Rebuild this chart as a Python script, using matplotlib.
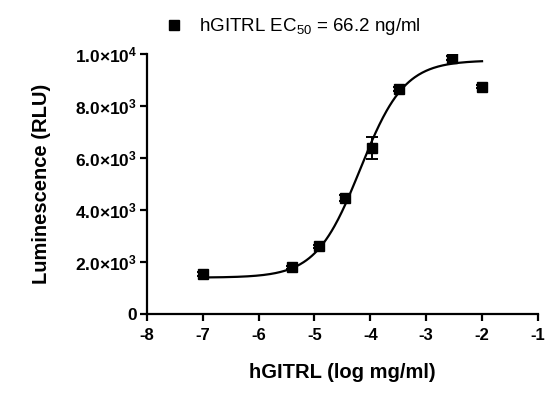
import numpy as np
import matplotlib
matplotlib.use("Agg")
import matplotlib.pyplot as plt

plt.rcParams['font.family'] = ['Liberation Sans', 'DejaVu Sans']
plt.rcParams['mathtext.fontset'] = 'custom'
plt.rcParams['mathtext.rm'] = 'Liberation Sans'
plt.rcParams['mathtext.bf'] = 'Liberation Sans:bold'
plt.rcParams['mathtext.it'] = 'Liberation Sans:italic'

# Data (log mg/ml vs luminescence RLU)
log_conc = [-7.0, -5.4, -4.92, -4.45, -3.97, -3.49, -2.53, -2.0]
rlu = [1550, 1800, 2600, 4450, 6380, 8650, 9850, 8750]
rlu_err = [80, 60, 60, 120, 430, 80, 80, 60]

# 4PL fit parameters
fit_bottom = 1400
fit_top = 9760
fit_logec50 = -4.18
fit_hill = 1.1

x_ticks = [-8, -7, -6, -5, -4, -3, -2, -1]
y_ticks = [0, 2000, 4000, 6000, 8000, 10000]
y_ticklabels = ["0", r"$\mathbf{2.0{\times}10^{3}}$", r"$\mathbf{4.0{\times}10^{3}}$",
                r"$\mathbf{6.0{\times}10^{3}}$", r"$\mathbf{8.0{\times}10^{3}}$",
                r"$\mathbf{1.0{\times}10^{4}}$"]

fig = plt.figure(figsize=(5.5, 3.95), dpi=100)
ax = fig.add_axes([0.267, 0.205, 0.711, 0.658])

xs = np.linspace(min(log_conc), max(log_conc), 300)
ys = fit_bottom + (fit_top - fit_bottom) / (1 + 10 ** ((fit_logec50 - xs) * fit_hill))
ax.plot(xs, ys, color='black', lw=1.6, zorder=2)

ax.errorbar(log_conc, rlu, yerr=rlu_err, fmt='s', color='black', ms=7.5,
            capsize=4.5, elinewidth=1.4, capthick=1.4, zorder=3)

ax.set_xlim(-8, -1)
ax.set_ylim(0, 10000)
ax.set_xticks(x_ticks)
ax.set_xticklabels([str(t) for t in x_ticks], fontweight='bold', fontsize=12)
ax.set_yticks(y_ticks)
ax.set_yticklabels(y_ticklabels, fontsize=12.5, fontweight='bold')
for sp in ['top', 'right']:
    ax.spines[sp].set_visible(False)
for sp in ['left', 'bottom']:
    ax.spines[sp].set_linewidth(1.6)
ax.tick_params(width=1.6, length=5, direction='out')
ax.tick_params(axis='x', pad=5)
ax.tick_params(axis='y', pad=2)

ax.set_xlabel("hGITRL (log mg/ml)", fontsize=14.5, fontweight='bold')
ax.set_ylabel("Luminescence (RLU)", fontsize=14.5, fontweight='bold')
ax.xaxis.set_label_coords(0.5, -0.19)
ax.yaxis.set_label_coords(-0.245, 0.5)

fig.legend(handles=[plt.Line2D([], [], marker='s', ls='none', color='black', ms=7.5)],
           labels=["hGITRL EC$_{50}$ = 66.2 ng/ml"], loc='center',
           bbox_to_anchor=(0.532, 0.932), frameon=False, fontsize=13.5,
           handletextpad=0.8, handlelength=1.0)

fig.savefig("out.png", dpi=100)
